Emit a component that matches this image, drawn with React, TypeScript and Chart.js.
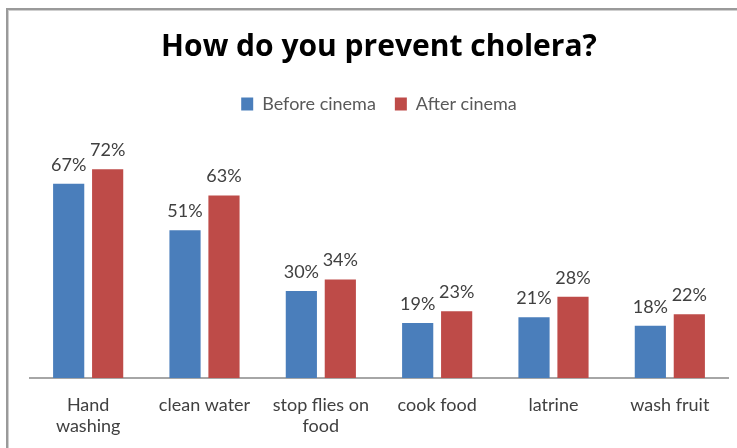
import React, { useEffect, useRef } from "react";
import { Chart, registerables } from "chart.js";

Chart.register(...registerables);

const categories: (string | string[])[] = [
  ["Hand", "washing"],
  "clean water",
  ["stop flies on", "food"],
  "cook food",
  "latrine",
  "wash fruit",
];
const beforeCinema = [67, 51, 30, 19, 21, 18];
const afterCinema = [72, 63, 34, 23, 28, 22];
const seriesNames = ["Before cinema", "After cinema"];
const titleText = "How do you prevent cholera?";

const FONT = "Lato, 'Open Sans', sans-serif";
const TITLE_FONT = "'Open Sans', Lato, sans-serif";

const framePlugin = {
  id: "frame",
  beforeDraw(chart: any) {
    const ctx = chart.ctx;
    ctx.save();
    ctx.fillStyle = "#ffffff";
    ctx.fillRect(0, 0, chart.width, chart.height);
    ctx.fillStyle = "#9a9a9a";
    ctx.fillRect(6, 8, chart.width - 6, 2);
    ctx.fillRect(6, 8, 2, chart.height - 8);
    ctx.fillStyle = "#cfcfcf";
    ctx.fillRect(8, 10, chart.width - 8, 1);
    ctx.fillRect(8, 10, 1, chart.height - 10);
    ctx.restore();
  },
};

const valueLabelPlugin = {
  id: "valueLabels",
  afterDatasetsDraw(chart: any) {
    const ctx = chart.ctx;
    ctx.save();
    ctx.font = `18px ${FONT}`;
    ctx.fillStyle = "#404040";
    ctx.textAlign = "center";
    ctx.textBaseline = "middle";
    chart.data.datasets.forEach((ds: any, di: number) => {
      const meta = chart.getDatasetMeta(di);
      meta.data.forEach((bar: any, i: number) => {
        ctx.fillText(`${ds.data[i]}%`, bar.x, bar.y - 19);
      });
    });
    ctx.restore();
  },
};

export default function App() {
  const ref = useRef<HTMLCanvasElement | null>(null);

  useEffect(() => {
    document.body.style.margin = "0";
    if (!ref.current) return;
    const chart = new Chart(ref.current, {
      type: "bar",
      data: {
        labels: categories,
        datasets: [
          {
            label: seriesNames[0],
            data: beforeCinema,
            backgroundColor: "#4A7EBB",
            categoryPercentage: 0.67,
            barPercentage: 0.8,
          },
          {
            label: seriesNames[1],
            data: afterCinema,
            backgroundColor: "#BE4B48",
            categoryPercentage: 0.67,
            barPercentage: 0.8,
          },
        ],
      },
      options: {
        animation: false,
        responsive: false,
        maintainAspectRatio: false,
        layout: { padding: { top: 0, left: 30, right: 9, bottom: 0 } },
        plugins: {
          title: {
            display: true,
            text: titleText,
            color: "#000000",
            font: { family: TITLE_FONT, size: 30, weight: "bold", lineHeight: 1.2 },
            padding: { top: 29, bottom: 11 },
          },
          legend: {
            display: true,
            position: "top",
            labels: {
              boxWidth: 12,
              boxHeight: 13,
              padding: 19,
              color: "#595959",
              font: { family: FONT, size: 18 },
            },
          },
          tooltip: { enabled: false },
        },
        scales: {
          x: {
            grid: { display: false, drawTicks: false },
            border: { display: true, color: "#a6a6a6", width: 2 },
            ticks: {
              color: "#404040",
              font: { family: FONT, size: 18, lineHeight: 1.2 },
              padding: 16,
              maxRotation: 0,
              autoSkip: false,
            },
            afterFit: (scale: any) => {
              scale.height = 70;
            },
          },
          y: {
            display: false,
            min: 0,
            max: 88,
          },
        },
      },
      plugins: [framePlugin, valueLabelPlugin],
    });
    return () => chart.destroy();
  }, []);

  return (
    <div style={{ width: 737, height: 448 }}>
      <canvas ref={ref} width={737} height={448} style={{ display: "block" }} />
    </div>
  );
}
